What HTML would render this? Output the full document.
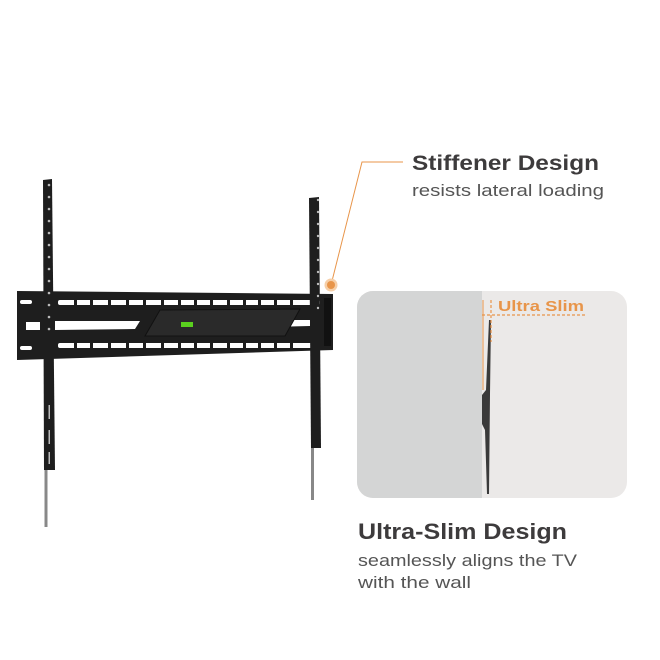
<!DOCTYPE html>
<html><head><meta charset="utf-8"><style>
html,body{margin:0;padding:0;background:#fff;}
svg{display:block;}
text{font-family:"Liberation Sans",sans-serif;}
</style></head><body>
<svg width="660" height="660" viewBox="0 0 660 660" xmlns="http://www.w3.org/2000/svg">
<rect width="660" height="660" fill="#fff"/>
<!-- right panel -->
<defs><clipPath id="cp"><rect x="357" y="291" width="270" height="207" rx="16"/></clipPath></defs>
<g clip-path="url(#cp)">
<rect x="357" y="291" width="270" height="207" fill="#ebe9e8"/>
<rect x="357" y="291" width="125" height="207" fill="#d4d5d5"/>
</g>
<!-- side profile -->
<path d="M489,320 L491,320 L490,394 L489,494 L487,494 L485,430 L482,424 L482,395 L486,390 Z" fill="#3a3a3a"/>
<path d="M483,300 L483,390" stroke="#e8954a" stroke-width="1"/>
<line x1="482" y1="315" x2="586" y2="315" stroke="#e8954a" stroke-width="1.2" stroke-dasharray="3,2"/>
<line x1="491" y1="300" x2="491" y2="342" stroke="#e8954a" stroke-width="1.2" stroke-dasharray="3,2"/>
<text x="498" y="311" font-size="15" font-weight="bold" fill="#e8954a" textLength="86" lengthAdjust="spacingAndGlyphs">Ultra Slim</text>
<!-- callout -->
<polyline points="403,162 362,162 331,285" fill="none" stroke="#e8954a" stroke-width="1"/>
<circle cx="331" cy="285" r="6.5" fill="#f6cfa8"/>
<circle cx="331" cy="285" r="4" fill="#e8954a"/>
<!-- texts -->
<text x="412" y="170" font-size="21" font-weight="bold" fill="#3d3b3c" textLength="187" lengthAdjust="spacingAndGlyphs">Stiffener Design</text>
<text x="412" y="196" font-size="17" fill="#555" textLength="192" lengthAdjust="spacingAndGlyphs">resists lateral loading</text>
<text x="358" y="539" font-size="22" font-weight="bold" fill="#3d3b3c" textLength="209" lengthAdjust="spacingAndGlyphs">Ultra-Slim Design</text>
<text x="358" y="566" font-size="17" fill="#555" textLength="219" lengthAdjust="spacingAndGlyphs">seamlessly aligns the TV</text>
<text x="358" y="588" font-size="17" fill="#555" textLength="113" lengthAdjust="spacingAndGlyphs">with the wall</text>
<!-- bracket: rods -->
<rect x="44.5" y="465" width="3" height="62" fill="#888"/>
<rect x="311" y="445" width="3" height="55" fill="#888"/>
<!-- plate -->
<path d="M17,291 L333,294 L333,350 L17,360 Z" fill="#1e1e1e"/>
<g fill="#fff">
<rect x="20" y="300" width="12" height="4" rx="2"/>
<rect x="58" y="300" width="262" height="5" rx="2"/>
<rect x="20" y="346" width="12" height="4" rx="2"/>
<rect x="58" y="343" width="262" height="5" rx="2"/>
<rect x="26" y="322" width="14" height="8"/>
<path d="M55,321 L140,321 L135,329 L55,330 Z"/>
<path d="M233,320 L310,320 L310,326 L228,328 Z"/>
</g>
<g fill="#1e1e1e">
<rect x="74" y="299" width="3" height="7"/><rect x="90" y="299" width="3" height="7"/><rect x="108" y="299" width="3" height="7"/><rect x="126" y="299" width="3" height="7"/><rect x="143" y="299" width="3" height="7"/><rect x="161" y="299" width="3" height="7"/><rect x="178" y="299" width="3" height="7"/><rect x="194" y="299" width="3" height="7"/><rect x="210" y="299" width="3" height="7"/><rect x="227" y="299" width="3" height="7"/><rect x="243" y="299" width="3" height="7"/><rect x="258" y="299" width="3" height="7"/><rect x="274" y="299" width="3" height="7"/><rect x="290" y="299" width="3" height="7"/>
<rect x="74" y="342" width="3" height="7"/><rect x="90" y="342" width="3" height="7"/><rect x="108" y="342" width="3" height="7"/><rect x="126" y="342" width="3" height="7"/><rect x="143" y="342" width="3" height="7"/><rect x="161" y="342" width="3" height="7"/><rect x="178" y="342" width="3" height="7"/><rect x="194" y="342" width="3" height="7"/><rect x="210" y="342" width="3" height="7"/><rect x="227" y="342" width="3" height="7"/><rect x="243" y="342" width="3" height="7"/><rect x="258" y="342" width="3" height="7"/><rect x="274" y="342" width="3" height="7"/><rect x="290" y="342" width="3" height="7"/>
</g>
<path d="M160,310 L300,309 L285,336 L145,336 Z" fill="#2a2a2a" stroke="#111" stroke-width="1"/>
<rect x="181" y="322" width="12" height="5" fill="#5ad01e"/>
<rect x="324" y="298" width="7" height="48" fill="#111"/>
<!-- uprights -->
<path d="M43,180 L52,179 L55,470 L44,470 Z" fill="#1e1e1e"/>
<path d="M309,198 L319,197 L321,448 L311,448 Z" fill="#1e1e1e"/>
<g fill="#bbb">
<circle cx="49" cy="185" r="1.3"/><circle cx="49" cy="197" r="1.3"/><circle cx="49" cy="209" r="1.3"/><circle cx="49" cy="221" r="1.3"/><circle cx="49" cy="233" r="1.3"/><circle cx="49" cy="245" r="1.3"/><circle cx="49" cy="257" r="1.3"/><circle cx="49" cy="269" r="1.3"/><circle cx="49" cy="281" r="1.3"/><circle cx="49" cy="293" r="1.3"/>
<circle cx="49" cy="305" r="1.3"/><circle cx="49" cy="317" r="1.3"/><circle cx="49" cy="329" r="1.3"/>
<circle cx="318" cy="200" r="1.2"/><circle cx="318" cy="212" r="1.2"/><circle cx="318" cy="224" r="1.2"/><circle cx="318" cy="236" r="1.2"/><circle cx="318" cy="248" r="1.2"/><circle cx="318" cy="260" r="1.2"/><circle cx="318" cy="272" r="1.2"/><circle cx="318" cy="284" r="1.2"/><circle cx="318" cy="296" r="1.2"/><circle cx="318" cy="308" r="1.2"/>
<rect x="48.5" y="405" width="1.5" height="14"/><rect x="48.5" y="430" width="1.5" height="14"/><rect x="48.5" y="452" width="1.5" height="12"/>
</g>
</svg>
</body></html>
